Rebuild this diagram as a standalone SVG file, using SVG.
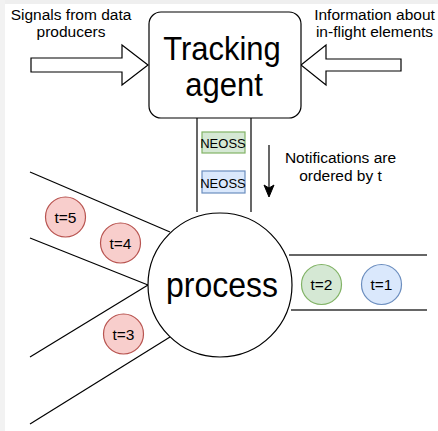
<svg xmlns="http://www.w3.org/2000/svg" width="438" height="431" viewBox="0 0 438 431">
<style>
.t{font-family:"Liberation Sans",Arial,Helvetica,sans-serif;fill:#000;text-anchor:middle}
.lbl{font-size:15.5px}
.ln{stroke:#000;stroke-width:1.2;fill:none}
.red{fill:#f8cecc;stroke:#b85450;stroke-width:1.2}
.grn{fill:#d5e8d4;stroke:#82b366;stroke-width:1.2}
.blu{fill:#dae8fc;stroke:#6c8ebf;stroke-width:1.2}
</style>
<rect width="438" height="431" fill="#fff"/>
<rect x="0" y="0" width="438" height="4" fill="#efefef"/>
<rect x="0" y="0" width="5" height="431" fill="#f2f2f2"/>
<g id="connectors">
<line class="ln" x1="197" y1="118" x2="197" y2="212"/>
<line class="ln" x1="251" y1="118" x2="251" y2="212"/>
<line class="ln" x1="30" y1="172" x2="170" y2="232"/>
<line class="ln" x1="30" y1="238" x2="148" y2="285"/>
<line class="ln" x1="30" y1="357" x2="148" y2="285"/>
<line class="ln" x1="30" y1="424" x2="170" y2="337"/>
<line x1="289" y1="255" x2="427" y2="255" stroke="#333" stroke-width="1.6"/>
<line x1="291" y1="310" x2="427" y2="310" stroke="#333" stroke-width="1.6"/>
<line class="ln" x1="269" y1="145" x2="269" y2="189"/>
<path d="M269,197 L264,185 L269,188 L274,185 Z" fill="#000" stroke="#000" stroke-width="1"/>
</g>
<g id="arrow-left">
<polygon points="31,58 122,58 122,45 148,65 122,85 122,72 31,72" fill="#fff" stroke="#000" stroke-width="1.2"/>
</g>
<g id="arrow-right">
<polygon points="401,59 326,59 326,45 301,65 326,85 326,71 401,71" fill="#fff" stroke="#000" stroke-width="1.2"/>
</g>
<g id="label-signals">
<text class="t lbl" x="71" y="20">Signals from data</text>
<text class="t lbl" x="71" y="37">producers</text>
</g>
<g id="label-info">
<text class="t lbl" x="374.5" y="20">Information about</text>
<text class="t lbl" x="374.5" y="37">in-flight elements</text>
</g>
<g id="tracking-agent">
<rect x="149" y="12" width="152" height="106" rx="12" ry="12" fill="#fff" stroke="#000" stroke-width="1.2"/>
<text class="t" transform="translate(222,60) scale(1,1.1)" font-size="31">Tracking</text>
<text class="t" transform="translate(224,96) scale(1,1.1)" font-size="31">agent</text>
</g>
<g id="neoss-1">
<rect class="grn" x="202" y="132" width="43" height="21"/>
<text class="t" x="223" y="148" font-size="13">NEOSS</text>
</g>
<g id="neoss-2">
<rect class="blu" x="202" y="171" width="43" height="22"/>
<text class="t" x="223" y="188" font-size="13">NEOSS</text>
</g>
<g id="label-notifications">
<text class="t lbl" x="340.5" y="163">Notifications are</text>
<text class="t lbl" x="340.5" y="181">ordered by t</text>
</g>
<g id="process">
<circle cx="220" cy="285" r="72" fill="#fff" stroke="#000" stroke-width="1.2"/>
<text class="t" transform="translate(222,297) scale(1,1.1)" font-size="32">process</text>
</g>
<g id="t5"><circle class="red" cx="65.5" cy="217" r="20"/><text class="t lbl" x="65.5" y="222.5">t=5</text></g>
<g id="t4"><circle class="red" cx="120.5" cy="243" r="20"/><text class="t lbl" x="120.5" y="248.5">t=4</text></g>
<g id="t3"><circle class="red" cx="123.5" cy="334" r="20"/><text class="t lbl" x="123.5" y="339.5">t=3</text></g>
<g id="t2"><circle class="grn" cx="321.5" cy="284.5" r="20"/><text class="t lbl" x="321.5" y="290">t=2</text></g>
<g id="t1"><circle class="blu" cx="381.5" cy="284.5" r="20"/><text class="t lbl" x="381.5" y="290">t=1</text></g>
</svg>
